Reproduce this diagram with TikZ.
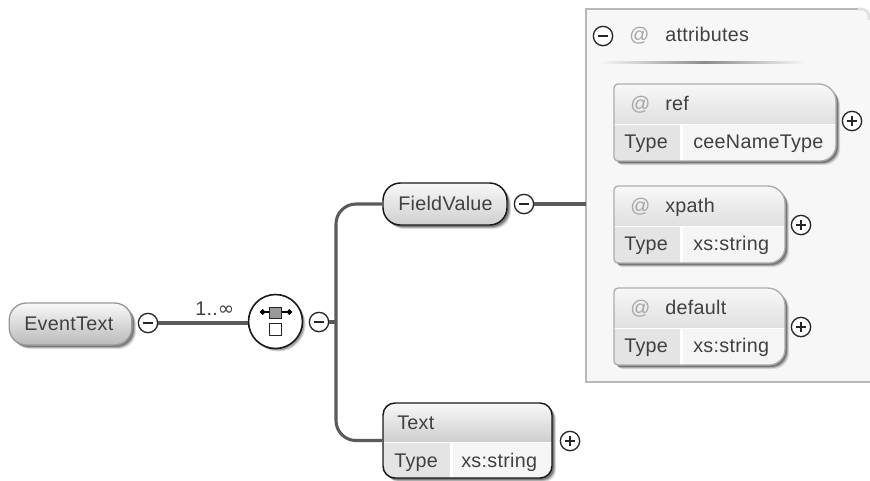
\documentclass[tikz,border=0pt]{standalone}
\usepackage{fontspec}
\setmainfont[LetterSpace=1.5]{Liberation Sans}
\newfontfamily\symfont{DejaVu Sans}
\usetikzlibrary{calc,arrows.meta}
\definecolor{conn}{HTML}{5A5A5A}
\definecolor{txtc}{HTML}{404040}
\definecolor{hdtop}{HTML}{F8F8F8}
\definecolor{hdbot}{HTML}{CFCFCF}
\definecolor{hdlight}{HTML}{E0E0E0}
\definecolor{typec}{HTML}{E4E4E4}
\definecolor{valc}{HTML}{F5F5F5}
\tikzset{
  px/.style={x=0.75pt,y=-0.75pt},
  connector/.style={draw=conn,line width=2.3pt},
  lbl/.style={font=\fontsize{14.8pt}{16pt}\selectfont,text=txtc,inner sep=0pt,anchor=base west},
  atsign/.style={font=\fontsize{14.8pt}{16pt}\selectfont,text=black!35,inner sep=0pt,anchor=base west},
  togglecirc/.style={circle,draw=black!85,line width=1pt,fill=white,minimum size=14.5pt,inner sep=0pt},
}
% collapse/expand buttons
\newcommand{\minusbtn}[3]{%
  \node[togglecirc] (#1) at (#2,#3) {};
  \draw[black!85,line width=1.1pt] ($(#1.center)+(-5,0)$) -- ($(#1.center)+(5,0)$);}
\newcommand{\plusbtn}[3]{%
  \minusbtn{#1}{#2}{#3}
  \draw[black!85,line width=1.1pt] ($(#1.center)+(0,-5)$) -- ($(#1.center)+(0,5)$);}
% box: name x1 y1 x2 y2 ydiv xdiv offset
\newcommand{\typedbox}[8]{%
  \def\xa{#2}\def\ya{#3}\def\xb{#4}\def\yb{#5}\def\yd{#6}\def\xd{#7}%
  \def\boxpath{(\xa,\ya+#8) [rounded corners=\ra] -- (\xa,\ya) [rounded corners=\rb] -- (\xb,\ya) [rounded corners=\rc] -- (\xb,\yb) [rounded corners=\ra] -- (\xa,\yb) [sharp corners] -- cycle}%
  \foreach \s/\o in {4/0.12,3/0.2,2/0.3}{
    \begin{scope}[shift={(\s,\s)}]
      \fill[black,opacity=\o] \boxpath;
    \end{scope}}
  \begin{scope}
    \clip \boxpath;
    \fill[white] (\xa,\ya) rectangle (\xb,\yb);
    \shade[top color=hdtop,bottom color=\hdcol] (\xa,\ya) rectangle (\xb,\yd);
    \fill[typec] (\xa,\yd+2) rectangle (\xd,\yb);
    \fill[valc] (\xd+3,\yd+2) rectangle (\xb,\yb);
  \end{scope}
  \draw[draw=\bordercol,line width=\borderw] \boxpath;
  \node[inner sep=0pt,minimum width={(\xb-\xa)*0.75pt},minimum height={(\yb-\ya)*0.75pt}] (#1) at ({(\xa+\xb)/2},{(\ya+\yb)/2}) {};}
\begin{document}
\begin{tikzpicture}[px]
\useasboundingbox (0,0) rectangle (870,480);
\fill[white] (0,0) rectangle (870,480);

% attributes panel
\fill[black!3] (586,9) rectangle (870,382);
\draw[draw=black!28,line width=2.2pt] (870,382) -- (586,382) -- (586,9) -- (858,9);
\draw[draw=black!12,line width=2pt,rounded corners=6pt] (858,9) -- (869,9) -- (869,20);
\node[inner sep=0pt,minimum width=213pt,minimum height=279.75pt] (panel) at (728,195.5) {};
\minusbtn{mattr}{603}{36}
\node[atsign] (atattr) at (629,41) {@};
\node[lbl] (attrtxt) at (665,41) {attributes};
\shade[left color=black!3,right color=black!45] (600,61) rectangle (705,63);
\shade[left color=black!45,right color=black!3] (705,61) rectangle (805,63);

% connectors
\coordinate (trunk) at (336,322);

% EventText
\foreach \s/\o in {4/0.12,3/0.2,2/0.3}{
  \fill[black,opacity=\o,rounded corners=13pt] (9+\s,303+\s) rectangle (132+\s,345+\s);}
\node[draw=black!40,line width=1pt,top color=hdtop,bottom color=hdbot!90!black,rounded corners=13pt,minimum width=92pt,minimum height=31.5pt,inner sep=0pt] (eventtext) at (70.5,324) {};
\node[lbl] (eventlbl) at (24,330) {EventText};
\minusbtn{m1}{148}{323}

% choice/sequence symbol
\foreach \s/\o in {3/0.15,2/0.25}{
  \fill[black,opacity=\o] (275.5+\s,321.5+\s) circle (20.25pt);}
\node[circle,draw=black!90,line width=1.2pt,fill=white,minimum size=40.5pt,inner sep=0pt] (seq) at (275.5,321.5) {};
\draw[black,line width=1.1pt,{Circle[length=4pt]}-{Circle[length=4pt]}] (260,312) -- (292,312);
\node[draw=black!85,fill=black!40,line width=.8pt,minimum size=8.4pt,inner sep=0pt] (sq1) at (275.5,313) {};
\node[draw=black!85,fill=white,line width=.8pt,minimum size=8.4pt,inner sep=0pt] (sq2) at (275.5,329.5) {};
\minusbtn{m2}{319}{322}
\node[font=\fontsize{14.8pt}{15pt}\selectfont,text=txtc,inner sep=0pt,anchor=base west] (occ) at (195,315) {1..{\symfont\fontsize{14.8pt}{15pt}\selectfont ∞}};

% FieldValue
\foreach \s/\o in {4/0.12,3/0.2,2/0.3}{
  \fill[black,opacity=\o,rounded corners=13pt] (383+\s,183+\s) rectangle (507+\s,225+\s);}
\node[draw=black!90,line width=1.1pt,top color=hdtop,bottom color=hdbot,rounded corners=13pt,minimum width=93pt,minimum height=31.5pt,inner sep=0pt] (fieldvalue) at (445,204) {};
\node[lbl] (fieldlbl) at (398,210) {FieldValue};
\minusbtn{m3}{524}{204}

% Text
\def\ra{9pt}\def\rb{9pt}\def\rc{9pt}\def\bordercol{black!90}\def\borderw{1.1pt}\def\hdcol{hdbot}
\typedbox{textbox}{383}{403}{552}{478}{441}{450}{20}
\node[lbl] (textlbl) at (397,429) {Text};
\node[lbl] (texttype) at (394,467) {Type};
\node[lbl] (textval) at (461,467) {xs:string};
\plusbtn{p4}{570}{441}

% ref
\def\ra{3pt}\def\rb{13pt}\def\rc{12pt}\def\bordercol{black!32}\def\borderw{1pt}\def\hdcol{hdlight}
\typedbox{refbox}{614}{84}{836}{161}{123}{680}{20}
\node[atsign] (atref) at (630,110) {@};
\node[lbl] (reflbl) at (665,110) {ref};
\node[lbl] (reftype) at (624,148) {Type};
\node[lbl] (refval) at (693,148) {ceeNameType};
\plusbtn{p1}{852}{121}

% xpath
\typedbox{xpathbox}{614}{186}{785}{263}{225}{680}{20}
\node[atsign] (atxpath) at (630,212) {@};
\node[lbl] (xpathlbl) at (665,212) {xpath};
\node[lbl] (xpathtype) at (624,250) {Type};
\node[lbl] (xpathval) at (693,250) {xs:string};
\plusbtn{p2}{801}{225}

% default
\typedbox{defaultbox}{614}{288}{785}{365}{327}{680}{20}
\node[atsign] (atdefault) at (630,314) {@};
\node[lbl] (defaultlbl) at (665,314) {default};
\node[lbl] (defaulttype) at (624,352) {Type};
\node[lbl] (defaultval) at (693,352) {xs:string};
\plusbtn{p3}{801}{327}

% connector lines
\draw[connector] (m1.east) -- (m1.east -| seq.west);
\draw[connector] (m2.east) -- (trunk);
\draw[connector,rounded corners=15pt] (fieldvalue.west) -| (trunk) |- (textbox.west);
\draw[connector] (m3.east) -- (m3.east -| panel.west);
\end{tikzpicture}
\end{document}
